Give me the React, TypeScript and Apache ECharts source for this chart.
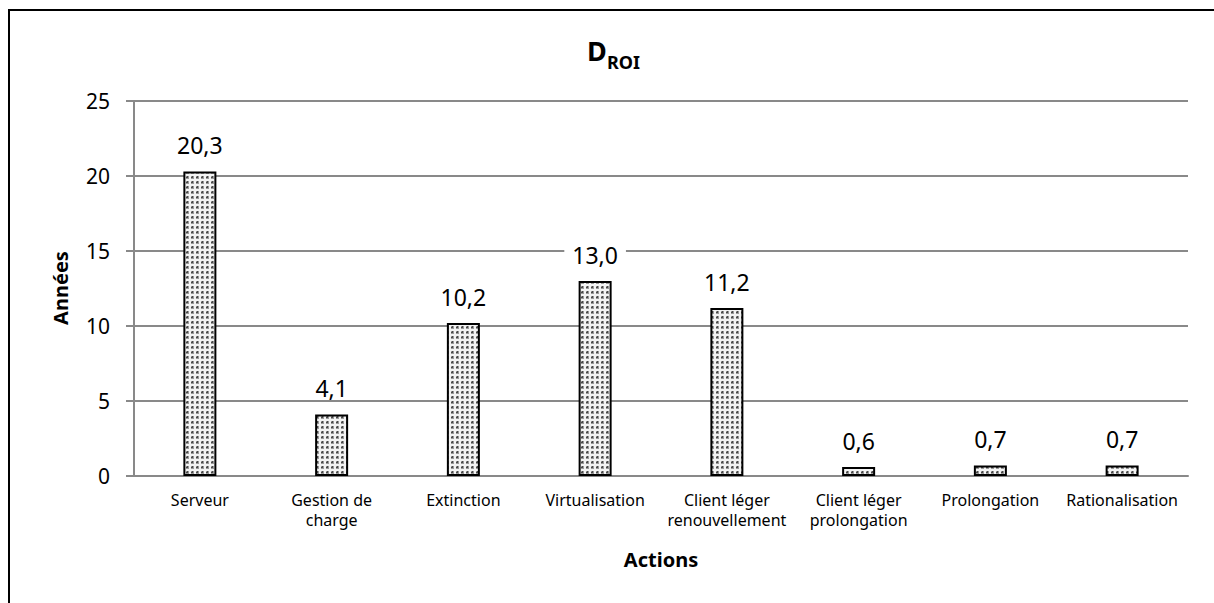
import React, { useEffect, useRef } from "react";
import * as echarts from "echarts";

const categories = [
  "Serveur",
  "Gestion de\ncharge",
  "Extinction",
  "Virtualisation",
  "Client léger\nrenouvellement",
  "Client léger\nprolongation",
  "Prolongation",
  "Rationalisation",
];
const droiValues = [20.3, 4.1, 10.2, 13.0, 11.2, 0.6, 0.7, 0.7];
const yTicks = { min: 0, max: 25, interval: 5 };
const titleMain = "D";
const titleSub = "ROI";
const xName = "Actions";
const yName = "Années";

const FONT = "'Noto Sans', 'Open Sans', sans-serif";

function makePattern(): string {
  const c = document.createElement("canvas");
  c.width = 5;
  c.height = 5;
  const ctx = c.getContext("2d")!;
  ctx.fillStyle = "#f3f3f3";
  ctx.fillRect(0, 0, 5, 5);
  ctx.fillStyle = "#9a9a9a";
  ctx.fillRect(1, 1, 3, 3);
  ctx.fillStyle = "#4a4a4a";
  ctx.fillRect(2, 2, 1, 1);
  ctx.fillRect(1, 2, 1, 1);
  ctx.fillRect(2, 1, 1, 1);
  return c.toDataURL();
}

export default function App() {
  const ref = useRef<HTMLDivElement>(null);
  useEffect(() => {
    if (!ref.current) return;
    const chart = echarts.init(ref.current, undefined, { renderer: "svg" });
    const pattern = makePattern();
    chart.setOption({
      animation: false,
      backgroundColor: "#ffffff",
      grid: { left: 134, right: 26, top: 101, bottom: 127, containLabel: false },
      xAxis: {
        type: "category",
        data: categories,
        axisLine: { show: true, lineStyle: { color: "#898989", width: 2 } },
        axisTick: { show: false },
        axisLabel: {
          interval: 0,
          color: "#000",
          fontFamily: FONT,
          fontSize: 16,
          lineHeight: 20,
          margin: 14,
        },
      },
      yAxis: {
        type: "value",
        min: yTicks.min,
        max: yTicks.max,
        interval: yTicks.interval,
        axisLine: { show: true, lineStyle: { color: "#898989", width: 2 } },
        axisTick: { show: true, length: 8, lineStyle: { color: "#898989", width: 2 } },
        splitLine: { show: true, lineStyle: { color: "#898989", width: 2 } },
        axisLabel: {
          color: "#000",
          fontFamily: FONT,
          fontSize: 21,
          margin: 24,
        },
      },
      series: [
        {
          type: "bar",
          data: droiValues,
          barWidth: 33,
          itemStyle: {
            color: { image: pattern, repeat: "repeat" },
            borderColor: "#000",
            borderWidth: 2,
          },
          label: {
            show: true,
            position: "top",
            distance: 15,
            color: "#000",
            fontFamily: FONT,
            fontSize: 23,
            backgroundColor: "#ffffff",
            padding: [0, 8],
            formatter: (p: any) => Number(p.value).toFixed(1).replace(".", ","),
          },
        },
      ],
      graphic: [
        {
          type: "rect",
          shape: { x: 9, y: 10, width: 1400, height: 800 },
          style: { fill: "none", stroke: "#000", lineWidth: 2 },
          silent: true,
          z: 100,
        },
        {
          type: "text",
          x: 587,
          y: 50,
          style: {
            text: titleMain,
            font: `bold 27px ${FONT}`,
            fill: "#000",
            textAlign: "left",
            textVerticalAlign: "middle",
          },
        },
        {
          type: "text",
          x: 607,
          y: 62,
          style: {
            text: titleSub,
            font: `bold 18px ${FONT}`,
            fill: "#000",
            textAlign: "left",
            textVerticalAlign: "middle",
          },
        },
        {
          type: "text",
          x: 661,
          y: 559,
          style: {
            text: xName,
            font: `bold 20px ${FONT}`,
            fill: "#000",
            textAlign: "center",
            textVerticalAlign: "middle",
          },
        },
        {
          type: "text",
          x: 60,
          y: 288,
          rotation: Math.PI / 2,
          style: {
            text: yName,
            font: `bold 20px ${FONT}`,
            fill: "#000",
            textAlign: "center",
            textVerticalAlign: "middle",
          },
        },
      ],
    });
    return () => chart.dispose();
  }, []);
  return (
    <div
      ref={ref}
      style={{ position: "fixed", left: 0, top: 0, width: 1214, height: 603 }}
    />
  );
}
